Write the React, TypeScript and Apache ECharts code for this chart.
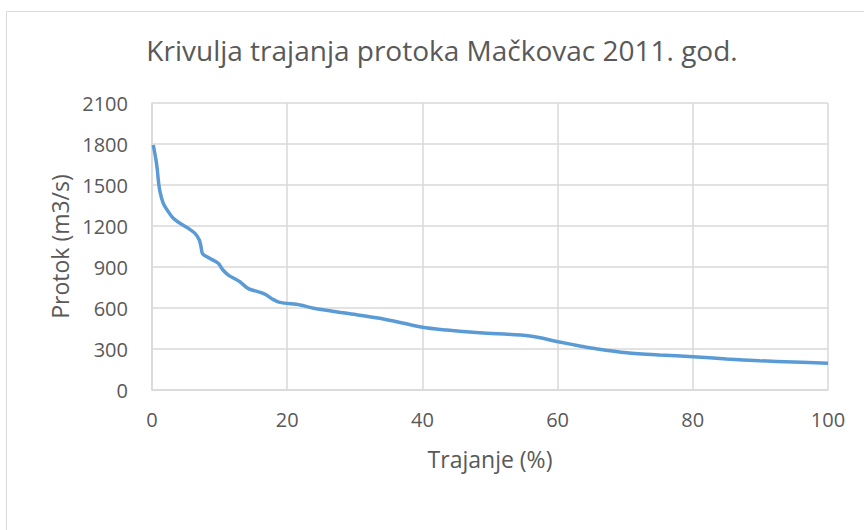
import React, { useEffect, useRef } from "react";
import * as echarts from "echarts";

const titleText = "Krivulja trajanja protoka Mačkovac 2011. god.";
const xAxisName = "Trajanje (%)";
const yAxisName = "Protok (m3/s)";

const duration = [
  0.19, 0.59, 0.79, 0.93, 1.18, 1.67, 2.41, 3.15, 4.14, 5.37, 6.36, 7.0, 7.25, 7.5,
  8.58, 9.8, 10.5, 11.3, 13.0, 14.2, 16.7, 17.9, 18.9, 21.9, 23.9, 28.8, 33.7, 40.0,
  43.6, 48.5, 55.9, 60.1, 63.3, 65.3, 70.2, 75.1, 80.0, 85.0, 89.9, 94.9, 100.0,
];
const flow = [
  1793, 1683, 1610, 1537, 1451, 1366, 1305, 1256, 1220, 1183, 1146, 1098, 1049, 995,
  963, 927, 878, 841, 792, 744, 702, 663, 641, 622, 598, 561, 525, 459,
  439, 419, 395, 353, 322, 305, 273, 256, 244, 227, 214, 205, 195,
];

const xTicks = { min: 0, max: 100, interval: 20 };
const yTicks = { min: 0, max: 2100, interval: 300 };

export default function App() {
  const ref = useRef<HTMLDivElement>(null);
  useEffect(() => {
    if (!ref.current) return;
    const chart = echarts.init(ref.current, null, { renderer: "svg" });
    const font = "'Open Sans', sans-serif";
    const textColor = "#595959";
    const gridColor = "#d9d9d9";
    chart.setOption({
      animation: false,
      backgroundColor: "#ffffff",
      title: {
        text: titleText,
        left: 437,
        top: 31,
        textAlign: "center",
        textStyle: { fontFamily: font, fontSize: 28, fontWeight: "normal", color: textColor },
      },
      graphic: [
        {
          type: "rect",
          shape: { x: 6.5, y: 11.5, width: 900, height: 600 },
          style: { fill: "none", stroke: gridColor, lineWidth: 1 },
          silent: true,
        },
      ],
      grid: { left: 152, right: 36, top: 103, bottom: 140, containLabel: false },
      xAxis: {
        type: "value",
        min: xTicks.min,
        max: xTicks.max,
        interval: xTicks.interval,
        name: xAxisName,
        nameLocation: "middle",
        nameGap: 57,
        nameTextStyle: { fontFamily: font, fontSize: 23, color: textColor },
        axisLine: { show: true, lineStyle: { color: gridColor, width: 1.5 } },
        axisTick: { show: false },
        axisLabel: { fontFamily: font, fontSize: 20, color: textColor, margin: 19 },
        splitLine: { show: true, lineStyle: { color: gridColor, width: 1.5 } },
      },
      yAxis: {
        type: "value",
        min: yTicks.min,
        max: yTicks.max,
        interval: yTicks.interval,
        name: yAxisName,
        nameLocation: "middle",
        nameGap: 81,
        nameTextStyle: { fontFamily: font, fontSize: 23, color: textColor },
        axisLine: { show: true, lineStyle: { color: gridColor, width: 1.5 } },
        axisTick: { show: false },
        axisLabel: {
          fontFamily: font,
          fontSize: 20,
          color: textColor,
          margin: 24,
          formatter: (v: number) => String(v),
        },
        splitLine: { show: true, lineStyle: { color: gridColor, width: 1.5 } },
      },
      series: [
        {
          type: "line",
          data: duration.map((d, i) => [d, flow[i]]),
          showSymbol: false,
          smooth: 0.3,
          lineStyle: { color: "#5B9BD5", width: 3.5 },
          itemStyle: { color: "#5B9BD5" },
        },
      ],
    });
    return () => chart.dispose();
  }, []);
  return (
    <div
      ref={ref}
      style={{ position: "fixed", left: 0, top: 0, width: 864, height: 530 }}
    />
  );
}
